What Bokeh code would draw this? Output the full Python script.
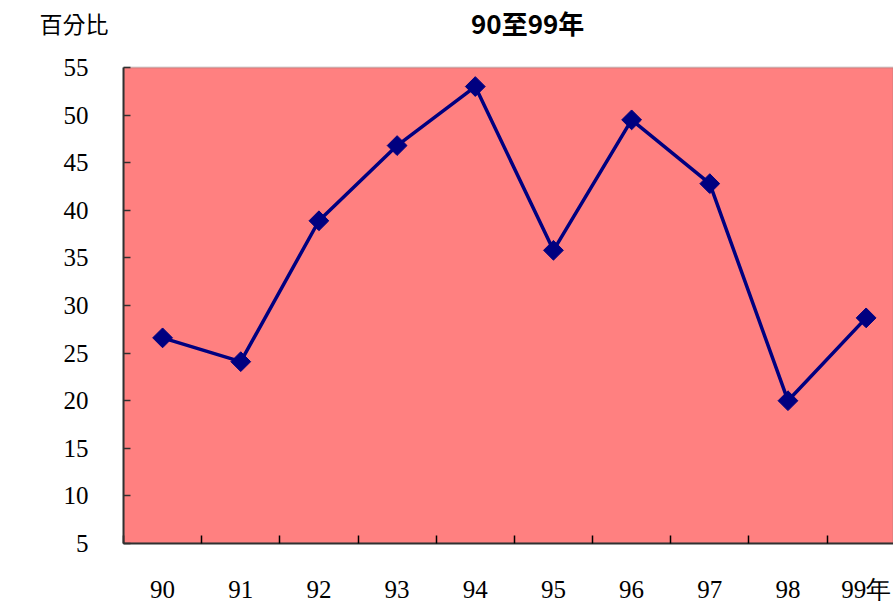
import math
from bokeh.plotting import figure
from bokeh.models import FixedTicker, Label, Range1d, BoxAnnotation, LinearAxis
from bokeh.embed import file_html
from bokeh.resources import INLINE

years = ["90", "91", "92", "93", "94", "95", "96", "97", "98", "99年"]
percent = [26.6, 24.1, 38.9, 46.8, 53.0, 35.8, 49.5, 42.8, 20.0, 28.7]
y_ticks = [5, 10, 15, 20, 25, 30, 35, 40, 45, 50, 55]
title_text = "90至99年"
y_title = "百分比"

xs = [i + 0.5 for i in range(len(years))]
boundaries = list(range(0, len(years) + 1))

y_lo, y_hi = y_ticks[0], y_ticks[-1]
px_per_unit = 476 / (y_hi - y_lo)
top_extra = 67 / px_per_unit          # room above plot area for titles
y_top = y_hi + top_extra

p = figure(frame_width=770, frame_height=543, output_backend="svg", toolbar_location=None,
           x_range=Range1d(0, 9.85), y_range=Range1d(y_lo, y_top),
           min_border_left=123, min_border_top=0, min_border_bottom=60, min_border_right=0,
           background_fill_color="white", border_fill_color="white", title=None)
p.outline_line_color = None
p.xgrid.visible = False
p.ygrid.visible = False

# plot area (pink) limited to the value axis extent
p.add_layout(BoxAnnotation(bottom=y_lo, top=y_hi, fill_color="#FF8080", fill_alpha=1.0,
                           line_color="#707070", line_width=2, level="underlay"))

p.line(xs, percent, line_color="#000080", line_width=3.5)
p.scatter(xs, percent, marker="square", angle=math.pi/4, size=14,
          fill_color="#000080", line_color="#000080")

serif = "Liberation Serif"
ax = p.xaxis[0]
ax.ticker = FixedTicker(ticks=xs, minor_ticks=boundaries)
ax.major_label_overrides = {x: t for x, t in zip(xs, years)}
ax.major_tick_in = 0
ax.major_tick_out = 0
ax.minor_tick_in = 8
ax.minor_tick_out = 0
ax.minor_tick_line_color = "black"
ax.minor_tick_line_width = 1.5
ax.axis_line_color = "#303030"
ax.axis_line_width = 2
ax.major_label_standoff = 32
ax.major_label_text_font = serif
ax.major_label_text_font_size = "25px"
ax.major_label_text_color = "black"

ay = p.yaxis[0]
ay.bounds = (y_lo, y_hi)
ay.ticker = FixedTicker(ticks=y_ticks)
ay.minor_tick_line_color = None
ay.major_tick_in = 7
ay.major_tick_out = 0
ay.major_tick_line_color = "#303030"
ay.major_tick_line_width = 1.5
ay.axis_line_color = "#303030"
ay.axis_line_width = 2
ay.major_label_standoff = 35
ay.major_label_text_font = serif
ay.major_label_text_font_size = "25px"
ay.major_label_text_color = "black"

# unit label ("百分比") above the value axis
y_title_pos = y_hi + (67 - 22) / px_per_unit
ay2 = LinearAxis(ticker=FixedTicker(ticks=[y_title_pos]),
                 major_label_overrides={y_title_pos: y_title},
                 axis_line_color=None, major_tick_line_color=None, minor_tick_line_color=None,
                 major_label_standoff=-54, major_label_text_font="Noto Sans CJK TC",
                 major_label_text_font_size="23px", major_label_text_color="black")
p.add_layout(ay2, "left")

p.add_layout(Label(x=5.17, y=y_hi + (67 - 3) / px_per_unit, text=title_text,
                   text_align="center", text_baseline="top",
                   text_font="Noto Sans CJK TC", text_font_size="26px", text_font_style="bold",
                   text_color="black"))

open("out.html", "w").write(file_html(p, INLINE))
